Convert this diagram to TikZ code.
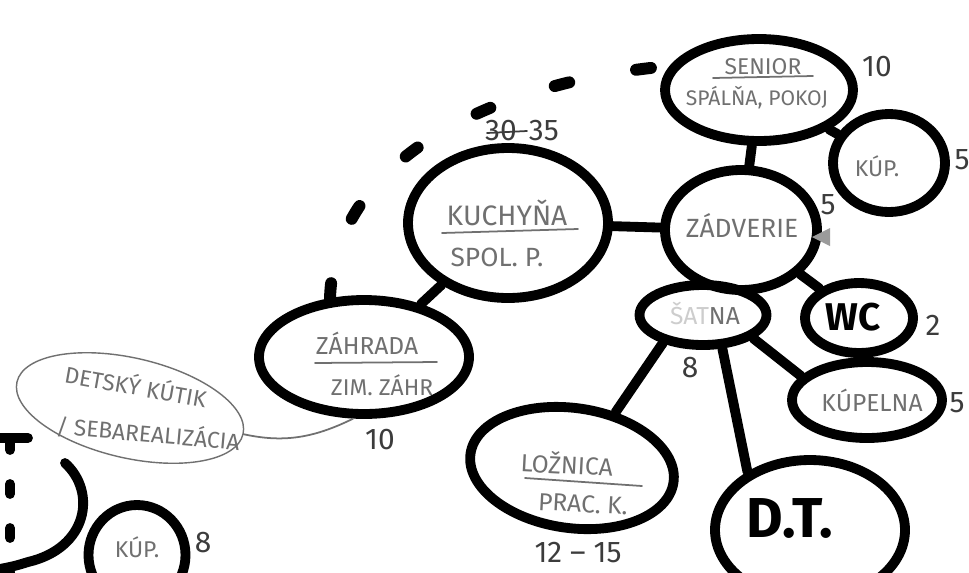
\documentclass[tikz,border=0pt]{standalone}
\usepackage{fontspec}
\setmainfont{Fira Sans}
\usetikzlibrary{shapes.geometric}
\definecolor{pencil}{HTML}{707070}
\definecolor{numink}{HTML}{3C3C3C}
\begin{document}
\begin{tikzpicture}[x=0.02cm, y=-0.02cm, line join=round, line cap=round]
\tikzset{
  room/.style 2 args={ellipse, draw=black, line width=5.6pt, minimum width=#1*0.02cm, minimum height=#2*0.02cm, inner sep=0pt},
  link/.style={draw=black, line width=5.6pt},
  pen/.style={text=pencil, inner sep=0pt, font=\fontsize{#1}{#1}\selectfont},
  marker/.style={text=black, inner sep=0pt, font=\bfseries\fontsize{#1}{#1}\selectfont},
  area/.style={text=numink, inner sep=0pt, font=\fontsize{17}{17}\selectfont},
  divider/.style={draw=pencil, line width=1pt}
}
\clip (0,0) rectangle (969,572);
\fill[white] (0,0) rectangle (969,572);
\node[room={188}{102}] (senior) at (759,90) {};
\node[room={112}{98}] (kupsenior) at (889,163) {};
\node[room={127}{60}] (satna) at (703,315) {};
\node[room={152}{120}] (zadverie) at (741,230) {};
\node[room={200}{150}] (kuchyna) at (508,223) {};
\node[room={210}{114}] (zahrada) at (364,357) {};
\node[room={108}{70}] (wc) at (859,318) {};
\node[room={150}{76}] (kupelna) at (867,400) {};
\node[room={205}{120}, rotate=-8] (loznica) at (572,468) {};
\node[room={190}{140}] (detska) at (810,530) {};
\node[room={97}{100}] (kupdole) at (137,555) {};
\node[ellipse, draw=pencil, line width=0.8pt, minimum width=232*0.02cm, minimum height=100*0.02cm, rotate=-13] (kutik) at (130,408) {};
\draw[link] (senior) -- (zadverie);
\draw[link] (senior) -- (kupsenior);
\draw[link] (kuchyna) -- (zadverie);
\draw[link] (zahrada) -- (kuchyna);
\draw[link] (zadverie) -- (wc);
\draw[link] (wc) -- (kupelna);
\draw[link] (satna.335) -- (kupelna.160);
\draw[link] (satna.215) -- (loznica.60);
\draw[link] (satna.300) -- (detska.137);
\draw[link, line width=6.8pt, dash pattern=on 0.3cm off 1.36cm] (zahrada.120) .. controls (335,150) and (510,80) .. (senior.165);
\draw[divider] (zahrada.260) .. controls (310,440) and (280,442) .. (kutik.east);
\fill[pencil!70] (812,237) -- (830,228) -- (830,246) -- cycle;
\draw[link] (0,438) -- (28,438);
\draw[link, dash pattern=on 0.2cm off 0.68cm] (10,440) -- (10,590);
\draw[link] (65,463) .. controls (97,492) and (88,548) .. (28,562) .. controls (15,566) .. (-5,570);
\node[pen=13] (seniorname) at (763,67) {SENIOR};
\draw[divider] (713,78) -- (813,76);
\node[pen=12] (senioruse) at (757,98) {SPÁLŇA, POKOJ};
\node[area] (seniorarea) at (877,67) {10};
\node[pen=13] (kupseniorname) at (877,166) {KÚP.};
\node[area] (kupseniorarea) at (962,160) {5};
\node[pen=15] (zadveriename) at (742,225) {ZÁDVERIE};
\node[area] (zadveriearea) at (828,205) {5};
\node[pen=16] (kuchynaname) at (507,213) {KUCHYŇA};
\draw[divider] (442,233) -- (578,229);
\node[pen=15] (kuchynause) at (497,257) {SPOL. P.};
\node[area] (kuchynaarea) at (522,131) {30\hspace{7pt}35};
\draw[draw=numink, line width=1pt] (487,133) -- (527,131);
\node[pen=14] (zahradaname) at (367,343) {ZÁHRADA};
\draw[divider] (315,363) -- (437,362);
\node[pen=13] (zahradause) at (382,385) {ZIM. ZÁHR};
\node[area] (zahradaarea) at (380,440) {10};
\node[pen=14] (satnaname) at (705,313) {{\color{pencil!35}ŠAT}NA};
\node[area] (satnaarea) at (690,368) {8};
\node[marker=22] (wcname) at (853,317) {WC};
\node[area] (wcarea) at (933,325) {2};
\node[pen=14] (kupelnaname) at (872,400) {KÚPELNA};
\node[area] (kupelnaarea) at (957,403) {5};
\node[pen=14, rotate=-3] (loznicaname) at (567,463) {LOŽNICA};
\draw[divider] (525,478) -- (642,486);
\node[pen=14, rotate=-3] (loznicause) at (583,504) {PRAC. K.};
\node[area] (loznicaarea) at (578,553) {12 – 15};
\node[marker=32] (detskaname) at (790,518) {D.T.};
\node[pen=13, rotate=-10] (kutikname) at (136,385) {DETSKÝ KÚTIK};
\node[pen=13, rotate=-5] (kutikuse) at (148,433) {/ SEBAREALIZÁCIA};
\node[pen=13] (kupdolename) at (137,547) {KÚP.};
\node[area] (kupdolearea) at (203,543) {8};
\end{tikzpicture}
\end{document}
